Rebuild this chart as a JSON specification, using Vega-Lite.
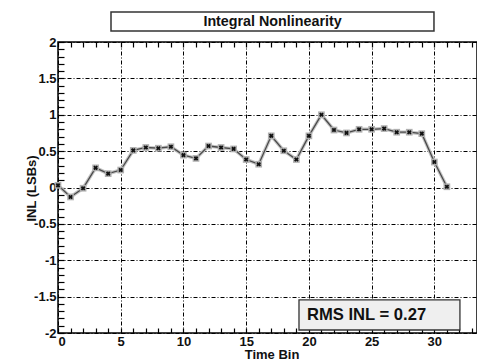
{
  "$schema": "https://vega.github.io/schema/vega-lite/v6.json",
  "width": 419,
  "height": 291,
  "autosize": "none",
  "padding": {"left": 58, "top": 42, "right": 0, "bottom": 29},
  "background": "white",
  "config": {
    "view": {"stroke": "black", "strokeWidth": 1.5},
    "font": "Liberation Sans",
    "axis": {"labelFont": "Liberation Sans", "titleFont": "Liberation Sans", "labelColor": "#111", "titleColor": "#111", "tickColor": "black", "domain": false}
  },
  "datasets": {
    "inl": [
      {"bin": 0, "inl": 0.03}, {"bin": 1, "inl": -0.13}, {"bin": 2, "inl": -0.01}, {"bin": 3, "inl": 0.27},
      {"bin": 4, "inl": 0.19}, {"bin": 5, "inl": 0.24}, {"bin": 6, "inl": 0.51}, {"bin": 7, "inl": 0.55},
      {"bin": 8, "inl": 0.54}, {"bin": 9, "inl": 0.56}, {"bin": 10, "inl": 0.445}, {"bin": 11, "inl": 0.40},
      {"bin": 12, "inl": 0.57}, {"bin": 13, "inl": 0.55}, {"bin": 14, "inl": 0.53}, {"bin": 15, "inl": 0.385},
      {"bin": 16, "inl": 0.32}, {"bin": 17, "inl": 0.71}, {"bin": 18, "inl": 0.505}, {"bin": 19, "inl": 0.385},
      {"bin": 20, "inl": 0.71}, {"bin": 21, "inl": 1.0}, {"bin": 22, "inl": 0.79}, {"bin": 23, "inl": 0.75},
      {"bin": 24, "inl": 0.80}, {"bin": 25, "inl": 0.80}, {"bin": 26, "inl": 0.81}, {"bin": 27, "inl": 0.76},
      {"bin": 28, "inl": 0.76}, {"bin": 29, "inl": 0.74}, {"bin": 30, "inl": 0.35}, {"bin": 31, "inl": 0.01}
    ],
    "note": [{"label": "annotation"}]
  },
  "resolve": {"axis": {"x": "independent", "y": "independent"}},
  "layer": [
    {
      "data": {"name": "inl"},
      "mark": {"type": "line", "color": "#c4c4c4", "strokeWidth": 3.5},
      "encoding": {
        "x": {"field": "bin", "type": "quantitative", "scale": {"domain": [0, 33.4], "nice": false, "zero": false},
          "axis": {"orient": "bottom", "title": "Time Bin", "titleFontSize": 13, "titleFontWeight": "bold",
            "titleBaseline": "middle", "titleY": 21, "titleX": 213.5, "titleAlign": "center",
            "values": [0,1,2,3,4,5,6,7,8,9,10,11,12,13,14,15,16,17,18,19,20,21,22,23,24,25,26,27,28,29,30,31,32,33],
            "labelExpr": "datum.value % 5 === 0 ? datum.label : ''", "labelFontSize": 13, "labelFontWeight": "bold",
            "labelPadding": 7, "tickSize": -5, "tickWidth": 1.2,
            "grid": true, "gridColor": "black", "gridWidth": 1, "gridDash": [4, 2, 1, 2],
            "gridOpacity": {"condition": {"test": "datum.value % 5 === 0", "value": 1}, "value": 0}}},
        "y": {"field": "inl", "type": "quantitative", "scale": {"domain": [-2, 2], "nice": false},
          "axis": {"orient": "left", "title": "INL (LSBs)", "titleFontSize": 13, "titleFontWeight": "bold",
            "titleX": -27, "titleY": 146, "titleBaseline": "middle", "titleAlign": "center", "titleAngle": -90,
            "values": [-2,-1.9,-1.8,-1.7,-1.6,-1.5,-1.4,-1.3,-1.2,-1.1,-1,-0.9,-0.8,-0.7,-0.6,-0.5,-0.4,-0.3,-0.2,-0.1,0,0.1,0.2,0.3,0.4,0.5,0.6,0.7,0.8,0.9,1,1.1,1.2,1.3,1.4,1.5,1.6,1.7,1.8,1.9,2],
            "labelExpr": "abs(datum.value*2 - round(datum.value*2)) < 0.001 ? '' + datum.value : ''", "labelFontSize": 13, "labelFontWeight": "bold",
            "labelPadding": 8, "tickSize": -6, "tickWidth": 1.2,
            "grid": true, "gridColor": "black", "gridWidth": 1, "gridDash": [4, 2, 1, 2],
            "gridOpacity": {"condition": {"test": "abs(datum.value*2 - round(datum.value*2)) < 0.001", "value": 1}, "value": 0}}}
      }
    },
    {
      "data": {"name": "inl"},
      "mark": {"type": "line", "color": "#4a4a4a", "strokeWidth": 1.3},
      "encoding": {
        "x": {"field": "bin", "type": "quantitative", "scale": {"domain": [0, 33.4], "nice": false, "zero": false},
          "axis": {"orient": "top", "title": null, "labels": false, "grid": false,
            "values": [0,1,2,3,4,5,6,7,8,9,10,11,12,13,14,15,16,17,18,19,20,21,22,23,24,25,26,27,28,29,30,31,32,33],
            "tickSize": -5, "tickWidth": 1.2}},
        "y": {"field": "inl", "type": "quantitative", "scale": {"domain": [-2, 2], "nice": false}, "axis": null}
      }
    },
    {
      "data": {"name": "inl"},
      "mark": {"type": "point", "shape": "square", "filled": true, "color": "#b0b0b0", "size": 45, "opacity": 1},
      "encoding": {
        "x": {"field": "bin", "type": "quantitative", "axis": null},
        "y": {"field": "inl", "type": "quantitative", "axis": null}
      }
    },
    {
      "data": {"name": "inl"},
      "mark": {"type": "point", "shape": "cross", "angle": 45, "filled": true, "color": "#111", "size": 22, "opacity": 1},
      "encoding": {
        "x": {"field": "bin", "type": "quantitative", "axis": null},
        "y": {"field": "inl", "type": "quantitative", "axis": null}
      }
    },
    {
      "data": {"name": "note"},
      "mark": {"type": "rect", "fill": "white", "stroke": "#333", "strokeWidth": 1.5, "clip": false},
      "encoding": {
        "x": {"datum": 4.225, "type": "quantitative", "axis": null}, "x2": {"datum": 29.97},
        "y": {"datum": 2.412, "type": "quantitative", "axis": null}, "y2": {"datum": 2.151}
      }
    },
    {
      "data": {"name": "note"},
      "mark": {"type": "text", "text": "Integral Nonlinearity", "font": "Liberation Sans", "fontWeight": "bold", "fontSize": 14.3, "color": "#111", "align": "center", "baseline": "middle", "clip": false},
      "encoding": {
        "x": {"datum": 17.1, "type": "quantitative", "axis": null},
        "y": {"datum": 2.28, "type": "quantitative", "axis": null}
      }
    },
    {
      "data": {"name": "note"},
      "mark": {"type": "rect", "fill": "#efefef", "stroke": "#333", "strokeWidth": 1.3},
      "encoding": {
        "x": {"datum": 19.21, "type": "quantitative", "axis": null}, "x2": {"datum": 32.04},
        "y": {"datum": -1.546, "type": "quantitative", "axis": null}, "y2": {"datum": -1.959}
      }
    },
    {
      "data": {"name": "note"},
      "mark": {"type": "text", "text": "RMS INL = 0.27", "font": "Liberation Sans", "fontWeight": "bold", "fontSize": 16.6, "color": "#111", "align": "left", "baseline": "middle"},
      "encoding": {
        "x": {"datum": 19.85, "type": "quantitative", "axis": null},
        "y": {"datum": -1.75, "type": "quantitative", "axis": null}
      }
    }
  ]
}
